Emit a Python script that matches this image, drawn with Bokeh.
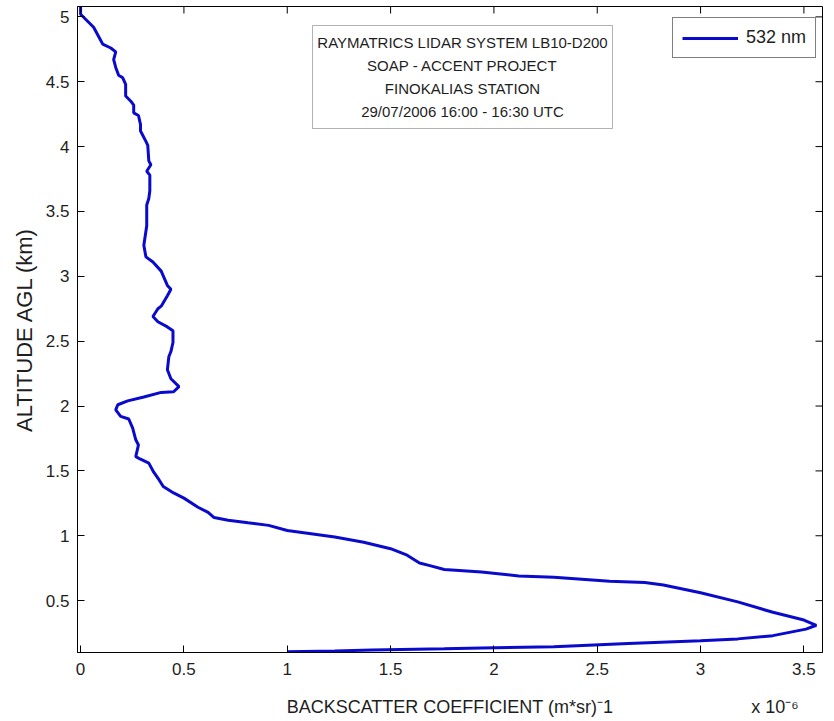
from bokeh.plotting import figure
from bokeh.models import (Range1d, LinearAxis, Label, BoxAnnotation, Legend,
                          LegendItem, FixedTicker, NumeralTickFormatter)
from bokeh.embed import file_html
from bokeh.resources import INLINE

# ---- data (backscatter in units of 1e-6 (m*sr)^-1, altitude in km) ----
backscatter = [0.0, 0.0, 0.063, 0.097, 0.107, 0.146, 0.17, 0.16, 0.17, 0.184,
               0.204, 0.218, 0.218, 0.243, 0.257, 0.257, 0.28, 0.29, 0.29, 0.316,
               0.325, 0.33, 0.34, 0.32, 0.335, 0.335, 0.33, 0.32, 0.32, 0.306,
               0.316, 0.35, 0.39, 0.42, 0.437, 0.42, 0.39, 0.374, 0.35, 0.374,
               0.42, 0.447, 0.447, 0.437, 0.427, 0.42, 0.437, 0.476, 0.45, 0.39,
               0.306, 0.228, 0.18, 0.17, 0.194, 0.233, 0.252, 0.267, 0.28, 0.267,
               0.29, 0.33, 0.354, 0.38, 0.40, 0.45, 0.50, 0.568, 0.617, 0.646,
               0.714, 0.81, 0.91, 1.0, 1.23, 1.37, 1.50, 1.58, 1.64, 1.69,
               1.76, 1.94, 2.12, 2.29, 2.56, 2.73, 2.82, 3.0, 3.18, 3.35,
               3.50, 3.56, 3.51, 3.35, 3.18, 3.0, 2.65, 2.29, 1.94, 1.76,
               1.41, 1.23, 1.0]
altitude = [5.08, 5.02, 4.92, 4.82, 4.79, 4.76, 4.73, 4.67, 4.61, 4.55,
            4.53, 4.48, 4.39, 4.35, 4.32, 4.26, 4.24, 4.17, 4.12, 4.04,
            4.01, 3.89, 3.86, 3.81, 3.78, 3.66, 3.60, 3.55, 3.39, 3.24,
            3.15, 3.11, 3.04, 2.93, 2.90, 2.85, 2.77, 2.75, 2.69, 2.65,
            2.61, 2.58, 2.49, 2.42, 2.38, 2.28, 2.21, 2.15, 2.11, 2.105,
            2.07, 2.04, 2.01, 1.97, 1.92, 1.90, 1.83, 1.74, 1.70, 1.61,
            1.59, 1.56, 1.49, 1.43, 1.38, 1.33, 1.29, 1.22, 1.18, 1.14,
            1.12, 1.10, 1.08, 1.04, 0.99, 0.95, 0.90, 0.85, 0.79, 0.77,
            0.74, 0.72, 0.69, 0.68, 0.65, 0.64, 0.62, 0.56, 0.49, 0.41,
            0.35, 0.31, 0.28, 0.23, 0.205, 0.19, 0.17, 0.145, 0.135, 0.128,
            0.12, 0.112, 0.105]

x_ticks = [0, 0.5, 1, 1.5, 2, 2.5, 3, 3.5]
y_ticks = [0.5, 1, 1.5, 2, 2.5, 3, 3.5, 4, 4.5, 5]

series_label = "532 nm"
title_lines = ["RAYMATRICS LIDAR SYSTEM LB10-D200",
               "SOAP - ACCENT PROJECT",
               "FINOKALIAS STATION",
               "29/07/2006 16:00 - 16:30 UTC"]
x_label = "BACKSCATTER COEFFICIENT (m*sr)\u207b1"
y_label = "ALTITUDE AGL (km)"
exp_note = "x 10\u207b\u2076"

FONT = "Liberation Sans"
BLUE = "#0a0acc"
TXT = "#1e1e1e"

X_MIN, X_MAX = -0.015, 3.59
Y_MIN, Y_MAX = 0.1, 5.08

p = figure(width=834, height=721, output_backend="svg", toolbar_location=None,
           x_range=Range1d(X_MIN, X_MAX), y_range=Range1d(Y_MIN, Y_MAX),
           min_border_left=77, min_border_right=12, min_border_top=6,
           min_border_bottom=69)
p.background_fill_color = "white"
p.border_fill_color = "white"
p.outline_line_color = "black"
p.outline_line_width = 1
p.grid.visible = False

r = p.line(backscatter, altitude, line_color=BLUE, line_width=3)

# inward ticks on the top and right frame edges (box on)
tick_dx = 7 / 206.6
tick_dy = 7 / 129.6
p.segment(x0=x_ticks, y0=[Y_MAX] * len(x_ticks), x1=x_ticks,
          y1=[Y_MAX - tick_dy] * len(x_ticks), line_color="black", line_width=1)
p.segment(x0=[X_MAX] * len(y_ticks), y0=y_ticks, x1=[X_MAX - tick_dx] * len(y_ticks),
          y1=y_ticks, line_color="black", line_width=1)

for ax, ticks in ((p.xaxis[0], x_ticks), (p.yaxis[0], y_ticks)):
    ax.ticker = FixedTicker(ticks=ticks)
    ax.formatter = NumeralTickFormatter(format="0.[0]")
    ax.major_tick_in = 7
    ax.major_tick_out = 0
    ax.minor_tick_line_color = None
    ax.axis_line_color = "black"
    ax.major_tick_line_color = "black"
    ax.major_label_text_font = FONT
    ax.major_label_text_color = TXT
    ax.major_label_text_font_size = "17px"
p.xaxis[0].major_label_standoff = 10
p.yaxis[0].major_label_standoff = 8

p.yaxis[0].axis_label = y_label
p.yaxis[0].axis_label_text_font = FONT
p.yaxis[0].axis_label_text_font_style = "normal"
p.yaxis[0].axis_label_text_color = TXT
p.yaxis[0].axis_label_text_font_size = "22px"
p.yaxis[0].axis_label_standoff = 6

# second row below the x axis: the axis title and the exponent note
lab_pos = (X_MIN + X_MAX) / 2
exp_pos = 3.36
lab_ax = LinearAxis(ticker=FixedTicker(ticks=[lab_pos, exp_pos]),
                    major_label_overrides={lab_pos: x_label, exp_pos: exp_note})
lab_ax.axis_line_color = None
lab_ax.major_tick_line_color = None
lab_ax.minor_tick_line_color = None
lab_ax.major_tick_in = 0
lab_ax.major_tick_out = 0
lab_ax.major_label_standoff = 19
lab_ax.major_label_text_font = FONT
lab_ax.major_label_text_font_size = "18px"
lab_ax.major_label_text_color = TXT
p.add_layout(lab_ax, "below")

# title box
p.add_layout(BoxAnnotation(left=235, right=535, top=627, bottom=524,
                           left_units="screen", right_units="screen",
                           top_units="screen", bottom_units="screen",
                           fill_color="white", fill_alpha=1,
                           line_color="black", line_width=1))
for i, t in enumerate(title_lines):
    p.add_layout(Label(x=385, y=610 - 23 * i, x_units="screen", y_units="screen",
                       text=t, text_align="center", text_baseline="middle",
                       text_font=FONT, text_font_size="15px", text_color=TXT))

legend = Legend(items=[LegendItem(label=series_label, renderers=[r])],
                location=(595, 594))
legend.border_line_color = "black"
legend.border_line_width = 1
legend.background_fill_color = "white"
legend.background_fill_alpha = 1
legend.glyph_width = 56
legend.glyph_height = 20
legend.label_standoff = 8
legend.padding = 9
legend.margin = 0
legend.spacing = 0
legend.label_text_font = FONT
legend.label_text_font_size = "18px"
legend.label_text_color = TXT
p.add_layout(legend, "center")

open("out.html", "w").write(file_html(p, INLINE))
